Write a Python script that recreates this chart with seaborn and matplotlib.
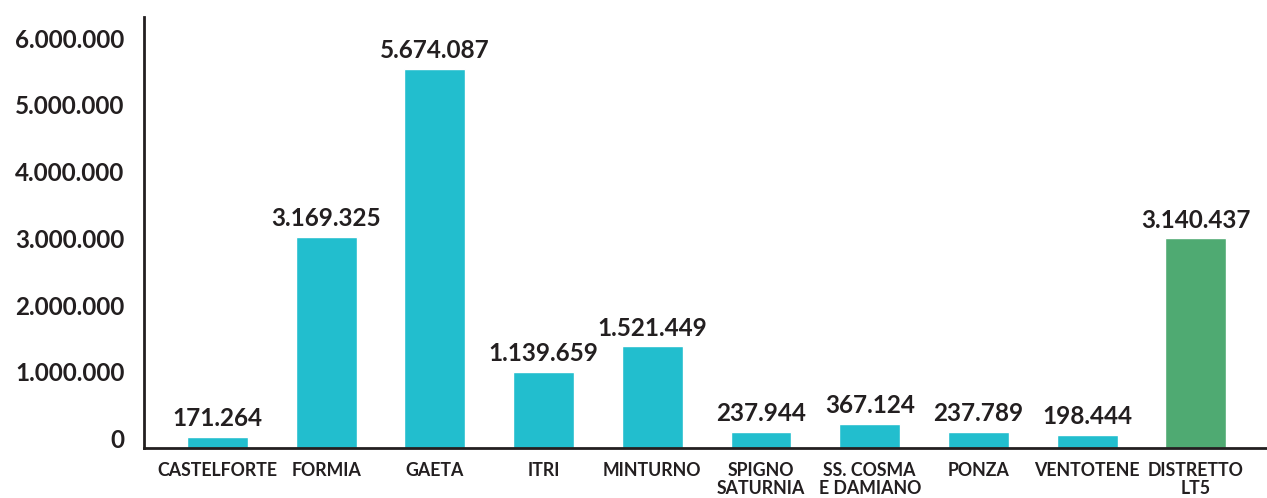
import matplotlib
matplotlib.use("Agg")
import matplotlib.pyplot as plt
import seaborn as sns
import pandas as pd

categories = ["CASTELFORTE", "FORMIA", "GAETA", "ITRI", "MINTURNO",
              "SPIGNO\nSATURNIA", "SS. COSMA\nE DAMIANO", "PONZA", "VENTOTENE",
              "DISTRETTO\nLT5"]
values = [171264, 3169325, 5674087, 1139659, 1521449,
          237944, 367124, 237789, 198444, 3140437]
value_labels = ["171.264", "3.169.325", "5.674.087", "1.139.659", "1.521.449",
                "237.944", "367.124", "237.789", "198.444", "3.140.437"]
ytick_values = [0, 1000000, 2000000, 3000000, 4000000, 5000000, 6000000]
ytick_labels = ["0", "1.000.000", "2.000.000", "3.000.000", "4.000.000",
                "5.000.000", "6.000.000"]

cyan = "#22BECE"
green = "#4FAA72"
colors = [cyan] * 9 + [green]
text_color = "#231F20"

sns.set_theme(style="white")
plt.rcParams["font.family"] = ["Lato", "DejaVu Sans"]

df = pd.DataFrame({"cat": categories, "val": values})

fig = plt.figure(figsize=(12.67, 4.98), dpi=100)
ax = fig.add_axes([144 / 1267, 50 / 498, (1267 - 144) / 1267, (448 - 17) / 498])

sns.barplot(data=df, x="cat", y="val", hue="cat", palette=colors,
            legend=False, width=0.56, saturation=1, ax=ax)

ax.set_xlim(-0.676, 9.655)
ax.set_ylim(0, 6460000)

for i, (v, lab) in enumerate(zip(values, value_labels)):
    ax.annotate(lab, (i, v), xytext=(0, 5), textcoords="offset points",
                ha="center", va="bottom", fontsize=17.5, fontweight="bold",
                color=text_color)

ax.set_yticks(ytick_values)
ax.set_yticklabels(ytick_labels, fontsize=17.5, fontweight="bold", color=text_color)
for t in ax.get_yticklabels():
    t.set_va("baseline")
ax.tick_params(axis="y", length=0, pad=14)
ax.tick_params(axis="x", length=0, pad=10, labelsize=12.8, labelcolor=text_color)
for t in ax.get_xticklabels():
    t.set_fontweight("bold")
    t.set_linespacing(1.1)

ax.set_xlabel("")
ax.set_ylabel("")
for s in ["top", "right"]:
    ax.spines[s].set_visible(False)
for s in ["left", "bottom"]:
    ax.spines[s].set_color(text_color)
    ax.spines[s].set_linewidth(2)

fig.savefig("out.png", dpi=100)
